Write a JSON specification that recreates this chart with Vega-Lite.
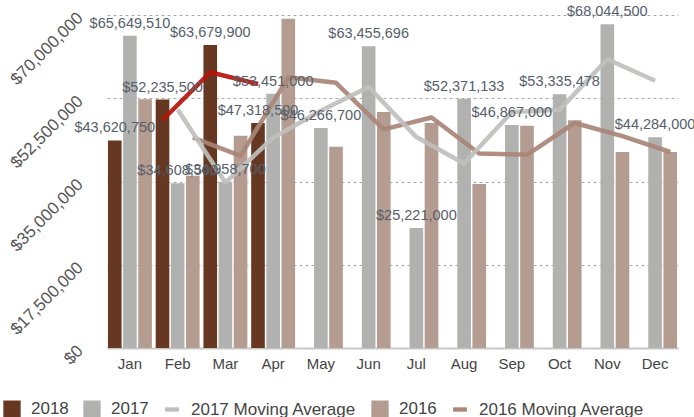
{
  "$schema": "https://vega.github.io/schema/vega-lite/v6.json",
  "width": 571,
  "height": 333,
  "autosize": "none",
  "padding": {"left": 107, "top": 15, "right": 16, "bottom": 69},
  "config": {
    "view": {"stroke": null},
    "font": "Liberation Sans"
  },
  "data": {
    "values": [
      {"month": "Jan", "series": "2018", "grp": "2018", "kind": "bar", "value": 43620750},
      {"month": "Feb", "series": "2018", "grp": "2018", "kind": "bar", "value": 52235500},
      {"month": "Mar", "series": "2018", "grp": "2018", "kind": "bar", "value": 63679900},
      {"month": "Apr", "series": "2018", "grp": "2018", "kind": "bar", "value": 47318500},
      {"month": "Jan", "series": "2017", "grp": "2017", "kind": "bar", "value": 65649510},
      {"month": "Feb", "series": "2017", "grp": "2017", "kind": "bar", "value": 34608500},
      {"month": "Mar", "series": "2017", "grp": "2017", "kind": "bar", "value": 34958700},
      {"month": "Apr", "series": "2017", "grp": "2017", "kind": "bar", "value": 53451000},
      {"month": "May", "series": "2017", "grp": "2017", "kind": "bar", "value": 46266700},
      {"month": "Jun", "series": "2017", "grp": "2017", "kind": "bar", "value": 63455696},
      {"month": "Jul", "series": "2017", "grp": "2017", "kind": "bar", "value": 25221000},
      {"month": "Aug", "series": "2017", "grp": "2017", "kind": "bar", "value": 52371133},
      {"month": "Sep", "series": "2017", "grp": "2017", "kind": "bar", "value": 46867000},
      {"month": "Oct", "series": "2017", "grp": "2017", "kind": "bar", "value": 53335478},
      {"month": "Nov", "series": "2017", "grp": "2017", "kind": "bar", "value": 68044500},
      {"month": "Dec", "series": "2017", "grp": "2017", "kind": "bar", "value": 44284000},
      {"month": "Jan", "series": "2016", "grp": "2016", "kind": "bar", "value": 52300000},
      {"month": "Feb", "series": "2016", "grp": "2016", "kind": "bar", "value": 36200000},
      {"month": "Mar", "series": "2016", "grp": "2016", "kind": "bar", "value": 44600000},
      {"month": "Apr", "series": "2016", "grp": "2016", "kind": "bar", "value": 69200000},
      {"month": "May", "series": "2016", "grp": "2016", "kind": "bar", "value": 42300000},
      {"month": "Jun", "series": "2016", "grp": "2016", "kind": "bar", "value": 49600000},
      {"month": "Jul", "series": "2016", "grp": "2016", "kind": "bar", "value": 47300000},
      {"month": "Aug", "series": "2016", "grp": "2016", "kind": "bar", "value": 34500000},
      {"month": "Sep", "series": "2016", "grp": "2016", "kind": "bar", "value": 46700000},
      {"month": "Oct", "series": "2016", "grp": "2016", "kind": "bar", "value": 47900000},
      {"month": "Nov", "series": "2016", "grp": "2016", "kind": "bar", "value": 41200000},
      {"month": "Dec", "series": "2016", "grp": "2016", "kind": "bar", "value": 41200000},
      {"month": "Feb", "series": "2016 Moving Average", "grp": "2016", "kind": "ma", "value": 44250000},
      {"month": "Mar", "series": "2016 Moving Average", "grp": "2016", "kind": "ma", "value": 40400000},
      {"month": "Apr", "series": "2016 Moving Average", "grp": "2016", "kind": "ma", "value": 56900000},
      {"month": "May", "series": "2016 Moving Average", "grp": "2016", "kind": "ma", "value": 55750000},
      {"month": "Jun", "series": "2016 Moving Average", "grp": "2016", "kind": "ma", "value": 45950000},
      {"month": "Jul", "series": "2016 Moving Average", "grp": "2016", "kind": "ma", "value": 48450000},
      {"month": "Aug", "series": "2016 Moving Average", "grp": "2016", "kind": "ma", "value": 40900000},
      {"month": "Sep", "series": "2016 Moving Average", "grp": "2016", "kind": "ma", "value": 40600000},
      {"month": "Oct", "series": "2016 Moving Average", "grp": "2016", "kind": "ma", "value": 47300000},
      {"month": "Nov", "series": "2016 Moving Average", "grp": "2016", "kind": "ma", "value": 44550000},
      {"month": "Dec", "series": "2016 Moving Average", "grp": "2016", "kind": "ma", "value": 41200000},
      {"month": "Feb", "series": "2017 Moving Average", "grp": "2017", "kind": "ma", "value": 50129005},
      {"month": "Mar", "series": "2017 Moving Average", "grp": "2017", "kind": "ma", "value": 34783600},
      {"month": "Apr", "series": "2017 Moving Average", "grp": "2017", "kind": "ma", "value": 44204850},
      {"month": "May", "series": "2017 Moving Average", "grp": "2017", "kind": "ma", "value": 49858850},
      {"month": "Jun", "series": "2017 Moving Average", "grp": "2017", "kind": "ma", "value": 54861198},
      {"month": "Jul", "series": "2017 Moving Average", "grp": "2017", "kind": "ma", "value": 44338348},
      {"month": "Aug", "series": "2017 Moving Average", "grp": "2017", "kind": "ma", "value": 38796067},
      {"month": "Sep", "series": "2017 Moving Average", "grp": "2017", "kind": "ma", "value": 49619067},
      {"month": "Oct", "series": "2017 Moving Average", "grp": "2017", "kind": "ma", "value": 50101239},
      {"month": "Nov", "series": "2017 Moving Average", "grp": "2017", "kind": "ma", "value": 60689989},
      {"month": "Dec", "series": "2017 Moving Average", "grp": "2017", "kind": "ma", "value": 56164250},
      {"month": "Feb", "series": "2018 Moving Average", "grp": "2018", "kind": "ma", "value": 47928125},
      {"month": "Mar", "series": "2018 Moving Average", "grp": "2018", "kind": "ma", "value": 57957700},
      {"month": "Apr", "series": "2018 Moving Average", "grp": "2018", "kind": "ma", "value": 55499200}
    ]
  },
  "encoding": {
    "x": {
      "field": "month",
      "type": "nominal",
      "scale": {
        "domain": ["Jan", "Feb", "Mar", "Apr", "May", "Jun", "Jul", "Aug", "Sep", "Oct", "Nov", "Dec"],
        "paddingInner": 0.08,
        "paddingOuter": 0.02
      },
      "axis": {
        "title": null,
        "labelAngle": 0,
        "labelFontSize": 15,
        "labelColor": "#444444",
        "labelPadding": 8,
        "ticks": false,
        "domainColor": "#c8c8c8",
        "domainWidth": 2,
        "grid": false
      }
    },
    "xOffset": {
      "field": "grp",
      "type": "nominal",
      "scale": {"domain": ["2018", "2017", "2016"], "paddingInner": 0.1}
    },
    "y": {
      "field": "value",
      "type": "quantitative",
      "scale": {"domain": [0, 70000000], "nice": false},
      "axis": {
        "title": null,
        "values": [0, 17500000, 35000000, 52500000, 70000000],
        "format": "$,.0f",
        "labelAngle": -45,
        "labelAlign": "right",
        "labelBaseline": "middle",
        "labelFontSize": 17,
        "labelColor": "#555555",
        "labelPadding": 27,
        "ticks": false,
        "domain": false,
        "gridDash": [3, 3],
        "gridColor": "#aaaaaa",
        "gridWidth": 1
      }
    }
  },
  "layer": [
    {
      "transform": [{"filter": "datum.kind === 'bar'"}],
      "mark": {"type": "bar"},
      "encoding": {
        "color": {
          "field": "series",
          "type": "nominal",
          "scale": {
            "domain": ["2018", "2017", "2017 Moving Average", "2016", "2016 Moving Average", "2018 Moving Average"],
            "range": ["#673821", "#b1b1af", "#bfbfbd", "#b49c90", "#a98677", "#b5150b"]
          },
          "legend": {
            "values": ["2018", "2017", "2017 Moving Average", "2016", "2016 Moving Average"],
            "title": null,
            "orient": "none",
            "legendX": -104,
            "legendY": 385,
            "direction": "horizontal",
            "padding": 0,
            "symbolSize": 300,
            "symbolType": "square",
            "symbolStrokeWidth": 0,
            "labelFontSize": 17,
            "labelLimit": 400,
            "labelColor": "#444444",
            "labelOffset": 10,
            "columnPadding": 14,
            "encode": {
              "symbols": {
                "update": {
                  "shape": [
                    {"test": "indexof(datum.label, 'Moving') >= 0", "value": "M-0.8,-0.25H0.8V0.25H-0.8Z"},
                    {"value": "square"}
                  ]
                }
              }
            }
          }
        }
      }
    },
    {
      "transform": [{"filter": "datum.kind === 'ma'"}],
      "mark": {"type": "line", "strokeWidth": 4.5, "strokeJoin": "round", "opacity": 0.92},
      "encoding": {
        "color": {"field": "series", "type": "nominal"},
        "detail": {"field": "series"}
      }
    },
    {
      "transform": [{"filter": "datum.kind === 'bar' && datum.grp !== '2016'"}],
      "mark": {"type": "text", "fontSize": 14.5, "color": "#56606a", "baseline": "alphabetic", "dy": -8},
      "encoding": {
        "text": {"field": "value", "type": "quantitative", "format": "$,.0f"}
      }
    }
  ]
}
